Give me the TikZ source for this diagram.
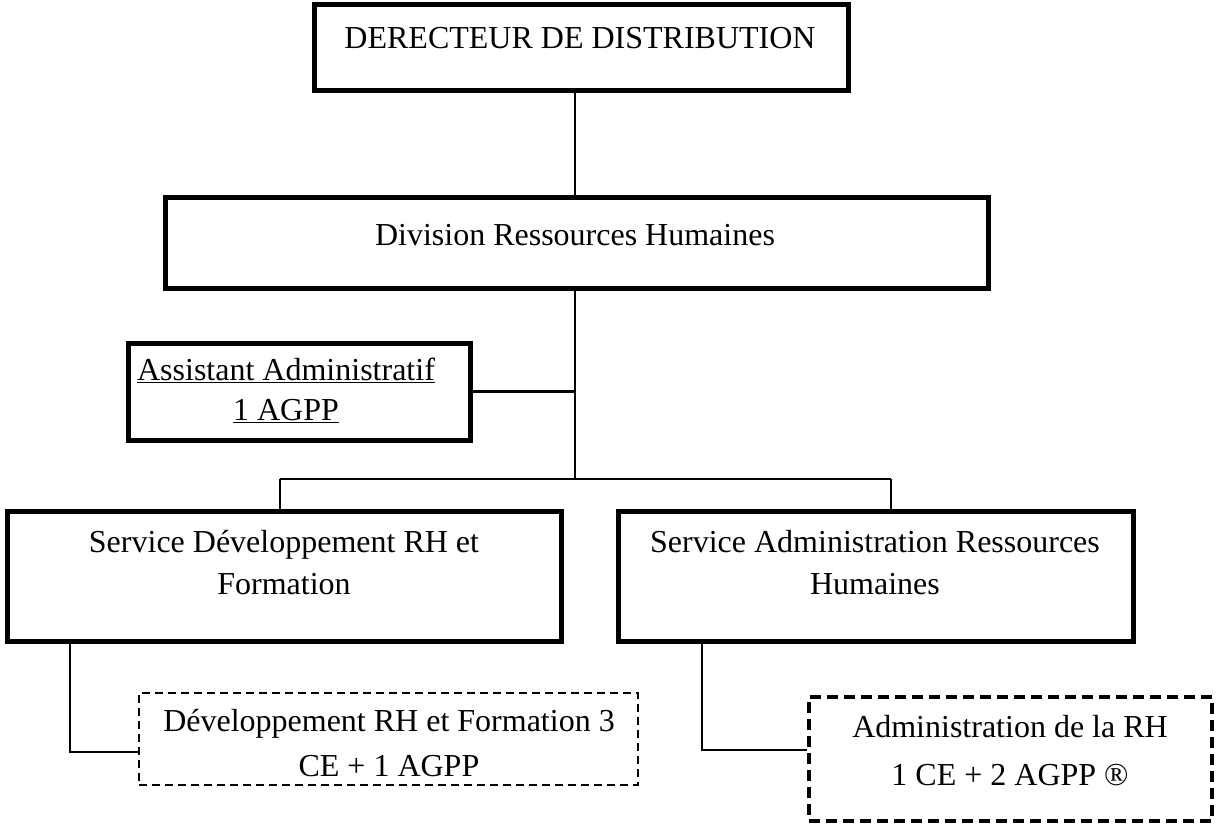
\documentclass[tikz,border=0pt]{standalone}
\usepackage{fontspec}
\setmainfont{Liberation Serif}
\begin{document}
\begin{tikzpicture}[x=1pt,y=-1pt,
  box/.style={draw,line width=5pt,rectangle,inner sep=0pt},
  dbox/.style={draw,line width=2.5pt,dash pattern=on 8pt off 5pt,rectangle,inner sep=0pt},
  dboxb/.style={draw,line width=3.3pt,dash pattern=on 11pt off 6pt,rectangle,inner sep=0pt},
  link/.style={line width=2.6pt},
  lbl/.style={font=\fontsize{32}{42}\selectfont,align=center,inner sep=0pt}]
\useasboundingbox (0,0) rectangle (1219,827);

% boxes, given by their corners
\newcommand{\orgbox}[6]{%
  \node[#1,minimum width={#4-#2},minimum height={#5-#3}] (#6) at ({(#2+#4)/2},{(#3+#5)/2}) {};}
\orgbox{box}{314}{4}{848}{90}{dir}
\orgbox{box}{165}{197}{988}{288}{div}
\orgbox{box}{128}{343}{470}{440}{asst}
\orgbox{box}{7}{511}{561}{641}{svcA}
\orgbox{box}{618}{511}{1133}{641}{svcB}
\orgbox{dbox}{139}{693}{638}{785}{dev}
\orgbox{dboxb}{809}{697}{1212}{821}{adm}

% texts
\node[lbl] (tdir) at (580,38) {DERECTEUR DE DISTRIBUTION};
\node[lbl] (tdiv) at (575,235) {Division Ressources Humaines};
\node[lbl,font=\fontsize{32}{40}\selectfont] (tasst) at (286,390) {\underline{Assistant Administratif}\\\underline{1 AGPP}};
\node[lbl] (tsvcA) at (284,563) {Service Développement RH et\\Formation};
\node[lbl] (tsvcB) at (875,563) {Service Administration Ressources\\Humaines};
\node[lbl,font=\fontsize{32}{45}\selectfont] (tdev) at (389,743) {Développement RH et Formation 3\\CE + 1 AGPP};
\node[lbl,font=\fontsize{32}{48}\selectfont] (tadm) at (1010,751) {Administration de la RH\\1 CE + 2 AGPP ®};

% connector points
\coordinate (trunk) at (575,0);
\coordinate (bus) at (575,479);
\coordinate (busL) at (280,479);
\coordinate (busR) at (891,479);
\coordinate (dropA) at (70,752);
\coordinate (dropB) at (702,750);

% connectors
\draw[link] (dir.south -| trunk) -- (div.north -| trunk);
\draw[link] (div.south -| trunk) -- (bus);
\draw[link] (asst.east) -- (asst.east -| trunk);
\draw[link] (busL) -- (busR);
\draw[link] (busL) -- (svcA.north -| busL);
\draw[link] (busR) -- (svcB.north -| busR);
\draw[link] (svcA.south -| dropA) -- (dropA) -- (dev.west |- dropA);
\draw[link] (svcB.south -| dropB) -- (dropB) -- (adm.west |- dropB);
\end{tikzpicture}
\end{document}
